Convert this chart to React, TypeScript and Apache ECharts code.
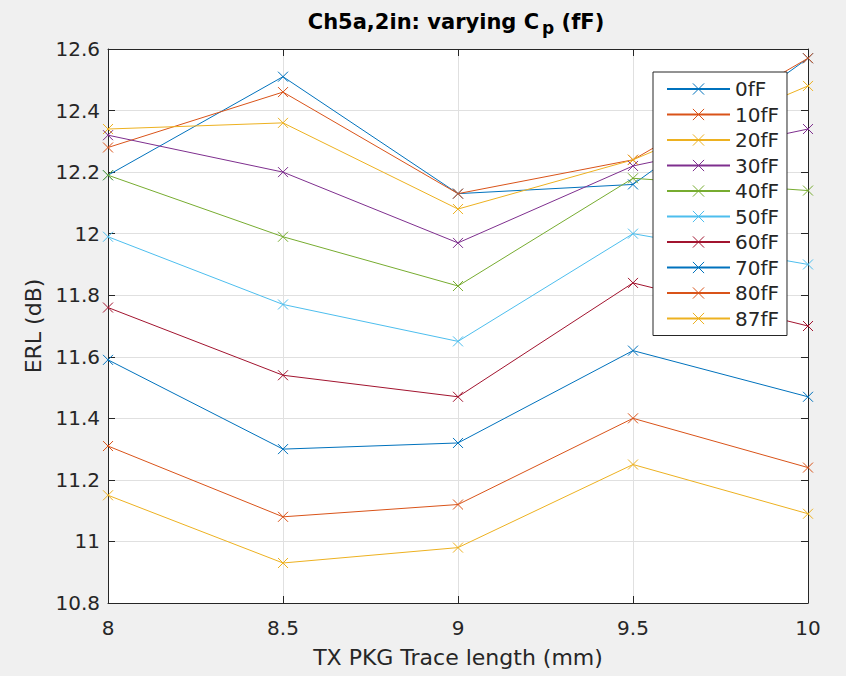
import React, { useEffect, useRef } from "react";
import * as echarts from "echarts";

const xValues = [8, 8.5, 9, 9.5, 10];
const seriesNames = ["0fF", "10fF", "20fF", "30fF", "40fF", "50fF", "60fF", "70fF", "80fF", "87fF"];
const s0 = [12.19, 12.51, 12.13, 12.16, 12.57];
const s10 = [12.28, 12.46, 12.13, 12.24, 12.57];
const s20 = [12.34, 12.36, 12.08, 12.24, 12.48];
const s30 = [12.32, 12.2, 11.97, 12.22, 12.34];
const s40 = [12.19, 11.99, 11.83, 12.18, 12.14];
const s50 = [11.99, 11.77, 11.65, 12.0, 11.9];
const s60 = [11.76, 11.54, 11.47, 11.84, 11.7];
const s70 = [11.59, 11.3, 11.32, 11.62, 11.47];
const s80 = [11.31, 11.08, 11.12, 11.4, 11.24];
const s87 = [11.15, 10.93, 10.98, 11.25, 11.09];
const seriesValues = [s0, s10, s20, s30, s40, s50, s60, s70, s80, s87];
const colors = ["#0072BD", "#D95319", "#EDB120", "#7E2F8E", "#77AC30", "#4DBEEE", "#A2142F", "#0072BD", "#D95319", "#EDB120"];

const FONT = "DejaVu Sans";
const TXT = "#262626";

export default function App() {
  const ref = useRef<HTMLDivElement>(null);
  useEffect(() => {
    if (!ref.current) return;
    const chart = echarts.init(ref.current, undefined, { renderer: "svg" });
    const xMarker = "path://M0,0L10,10M10,0L0,10";
    const series = seriesNames.map((name, i) => ({
      name,
      type: "line",
      xAxisIndex: 0,
      yAxisIndex: 0,
      data: xValues.map((x, j) => [x, seriesValues[i][j]]),
      symbol: xMarker,
      symbolSize: 10,
      showSymbol: true,
      lineStyle: { color: colors[i], width: 1 },
      itemStyle: { color: colors[i], borderColor: colors[i], borderWidth: 1 },
      emphasis: { disabled: true },
    }));
    const axisCommon = {
      axisLine: { show: true, lineStyle: { color: TXT, width: 1 } },
      axisTick: { show: true, inside: true, length: 7, lineStyle: { color: TXT } },
    };
    chart.setOption({
      animation: false,
      backgroundColor: "#f0f0f0",
      textStyle: { fontFamily: FONT },
      grid: {
        left: 108,
        right: 38,
        top: 49,
        bottom: 73,
        show: true,
        backgroundColor: "#ffffff",
        borderWidth: 0,
        containLabel: false,
      },
      graphic: [
        {
          type: "text",
          x: 456,
          y: 22,
          z: 10,
          style: {
            text: "{a|Ch5a,2in: varying C}{s|p}{a| (fF)}",
            align: "center",
            verticalAlign: "middle",
            rich: {
              a: { fontFamily: FONT, fontSize: 21, fontWeight: "bold", fill: "#000" },
              s: { fontFamily: FONT, fontSize: 17, fontWeight: "bold", fill: "#000", padding: [12, 0, 0, 3] },
            },
          },
        },
      ],
      legend: {
        orient: "vertical",
        left: 653,
        top: 72,
        padding: [6, 8, 6, 13],
        itemWidth: 63,
        itemHeight: 14,
        itemGap: 3.5,
        backgroundColor: "#ffffff",
        borderColor: TXT,
        borderWidth: 1,
        borderRadius: 0,
        textStyle: { fontFamily: FONT, fontSize: 20, color: TXT, lineHeight: 22 },
        itemStyle: { borderWidth: 1 },
        data: seriesNames,
      },
      xAxis: [
        {
          type: "value",
          min: 8,
          max: 10,
          interval: 0.5,
          position: "bottom",
          name: "TX PKG Trace length (mm)",
          nameLocation: "middle",
          nameGap: 43,
          nameTextStyle: { fontFamily: FONT, fontSize: 22, color: TXT },
          axisLabel: { fontFamily: FONT, fontSize: 20, color: TXT, margin: 15 },
          splitLine: { show: true, lineStyle: { color: "#e0e0e0", width: 1 } },
          ...axisCommon,
        },
        {
          type: "value",
          min: 8,
          max: 10,
          interval: 0.5,
          position: "top",
          axisLabel: { show: false },
          splitLine: { show: false },
          ...axisCommon,
        },
      ],
      yAxis: [
        {
          type: "value",
          min: 10.8,
          max: 12.6,
          interval: 0.2,
          position: "left",
          name: "ERL (dB)",
          nameLocation: "middle",
          nameGap: 64,
          nameRotate: 90,
          nameTextStyle: { fontFamily: FONT, fontSize: 22, color: TXT },
          axisLabel: { fontFamily: FONT, fontSize: 20, color: TXT, margin: 8 },
          splitLine: { show: true, lineStyle: { color: "#e0e0e0", width: 1 } },
          ...axisCommon,
        },
        {
          type: "value",
          min: 10.8,
          max: 12.6,
          interval: 0.2,
          position: "right",
          axisLabel: { show: false },
          splitLine: { show: false },
          ...axisCommon,
        },
      ],
      series,
    });
    return () => chart.dispose();
  }, []);
  return (
    <div
      ref={ref}
      style={{ position: "fixed", left: 0, top: 0, width: 846, height: 676, background: "#f0f0f0" }}
    />
  );
}
